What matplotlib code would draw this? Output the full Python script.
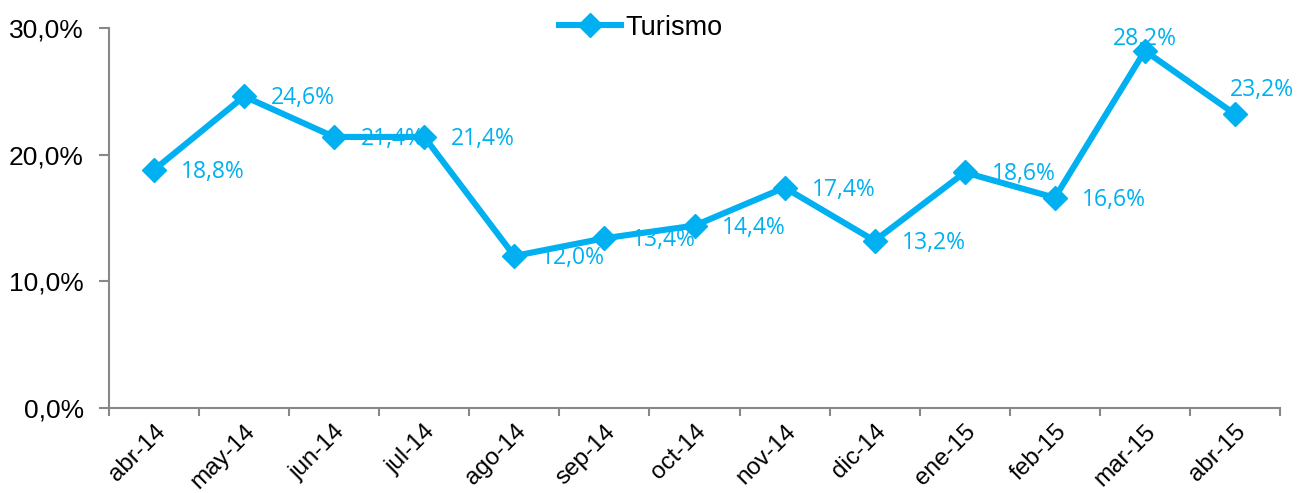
import matplotlib
matplotlib.use("Agg")
import matplotlib.pyplot as plt
import numpy as np

categories = ["abr-14", "may-14", "jun-14", "jul-14", "ago-14", "sep-14", "oct-14",
              "nov-14", "dic-14", "ene-15", "feb-15", "mar-15", "abr-15"]
turismo = [18.8, 24.6, 21.4, 21.4, 12.0, 13.4, 14.4, 17.4, 13.2, 18.6, 16.6, 28.2, 23.2]
yticks = [0, 10, 20, 30]

color = "#00B0F0"
gray = "#888888"

fig = plt.figure(figsize=(12.99, 4.93), dpi=100)
ax = fig.add_axes([109/1299, 1-408/493, (1280-109)/1299, (408-28)/493])

x = np.arange(len(categories))
ax.plot(x, turismo, color=color, lw=4.4, marker="D", ms=12.5, label="Turismo",
        solid_joinstyle="miter")

ax.set_xlim(-0.5, len(categories) - 0.5)
ax.set_ylim(0, 30)

def fmt(v):
    return f"{v:.1f}".replace(".", ",") + "%"

offsets = [(27, -2)] * len(turismo)
offsets[11] = (-32, 12)
offsets[12] = (-5, 24)
for xi, v, off in zip(x, turismo, offsets):
    ax.annotate(fmt(v), (xi, v), xytext=off, textcoords="offset pixels",
                ha="left", va="center", color=color, fontsize=16.5,
                family=["Open Sans", "DejaVu Sans"])

ax.set_yticks(yticks)
ax.set_yticklabels([fmt(t) for t in yticks], fontsize=19, family="Liberation Sans")
ax.set_xticks(x)
ax.set_xticklabels(categories, rotation=45, ha="right", va="top",
                   rotation_mode="anchor", fontsize=17.5, family="Liberation Sans")
ax.set_xticks(np.arange(-0.5, len(categories)), minor=True)
ax.tick_params(axis="x", which="major", length=0, pad=9)
ax.tick_params(axis="x", which="minor", length=6, color=gray, width=1.5, direction="out")
ax.tick_params(axis="y", length=7, color=gray, width=1.5, pad=11)

for s in ["top", "right"]:
    ax.spines[s].set_visible(False)
for s in ["left", "bottom"]:
    ax.spines[s].set_color(gray)
    ax.spines[s].set_linewidth(1.5)

leg = fig.legend(loc="upper center", bbox_to_anchor=(0.493, 1.02), frameon=False,
                 prop={"family": "Liberation Sans", "size": 19.5},
                 handlelength=2.3, handletextpad=0.15)

fig.savefig("out.png", dpi=100)
